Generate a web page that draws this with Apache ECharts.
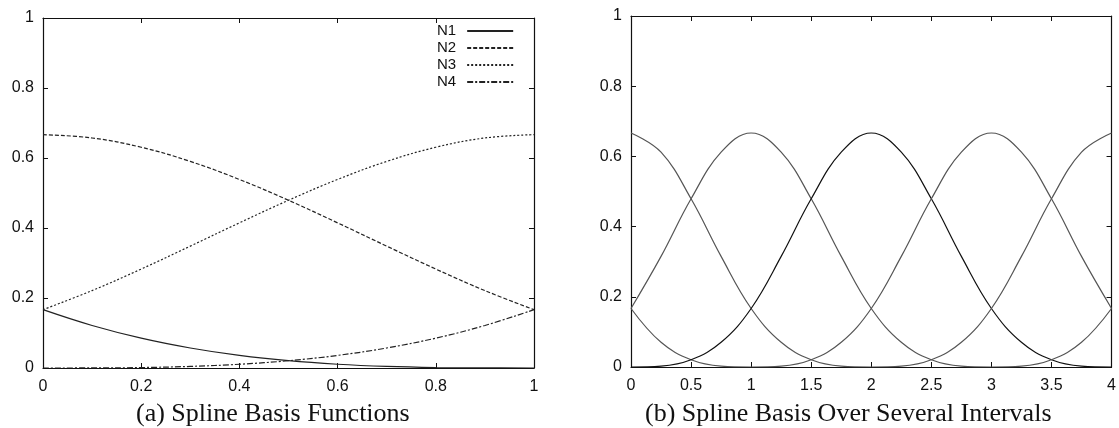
<!DOCTYPE html>
<html><head><meta charset="utf-8">
<script src="https://cdn.jsdelivr.net/npm/echarts@6/dist/echarts.min.js"></script>
<style>html,body{margin:0;padding:0;background:#fff}#c{width:1119px;height:428px}</style>
</head><body><div id="c"></div>
<script>
// Panel (a): spline basis functions on one interval
const tA = [0, 0.1, 0.2, 0.3, 0.4, 0.5, 0.6, 0.7, 0.8, 0.9, 1];
const N1 = [0.1667, 0.1215, 0.0853, 0.0572, 0.0360, 0.0208, 0.0107, 0.0045, 0.0013, 0.0002, 0];
const N2 = [0.6667, 0.6572, 0.6307, 0.5902, 0.5387, 0.4792, 0.4147, 0.3482, 0.2827, 0.2212, 0.1667];
const N3 = [0.1667, 0.2212, 0.2827, 0.3482, 0.4147, 0.4792, 0.5387, 0.5902, 0.6307, 0.6572, 0.6667];
const N4 = [0, 0.0002, 0.0013, 0.0045, 0.0107, 0.0208, 0.0360, 0.0572, 0.0853, 0.1215, 0.1667];
const namesA = ['N1', 'N2', 'N3', 'N4'];

// Panel (b): basis over several intervals
const xB = [0, 0.25, 0.5, 0.75, 1, 1.25, 1.5, 1.75, 2, 2.25, 2.5, 2.75, 3, 3.25, 3.5, 3.75, 4];
const Bm1 = [0.1667, 0.0703, 0.0208, 0.0026, 0, null, null, null, null, null, null, null, null, null, null, null, null];
const B0 = [0.6667, 0.6120, 0.4792, 0.3151, 0.1667, 0.0703, 0.0208, 0.0026, 0, null, null, null, null, null, null, null, null];
const B1 = [0.1667, 0.3151, 0.4792, 0.6120, 0.6667, 0.6120, 0.4792, 0.3151, 0.1667, 0.0703, 0.0208, 0.0026, 0, null, null, null, null];
const B2 = [0, 0.0026, 0.0208, 0.0703, 0.1667, 0.3151, 0.4792, 0.6120, 0.6667, 0.6120, 0.4792, 0.3151, 0.1667, 0.0703, 0.0208, 0.0026, 0];
const B3 = [null, null, null, null, 0, 0.0026, 0.0208, 0.0703, 0.1667, 0.3151, 0.4792, 0.6120, 0.6667, 0.6120, 0.4792, 0.3151, 0.1667];
const B4 = [null, null, null, null, null, null, null, null, 0, 0.0026, 0.0208, 0.0703, 0.1667, 0.3151, 0.4792, 0.6120, 0.6667];
const B5 = [null, null, null, null, null, null, null, null, null, null, null, null, 0, 0.0026, 0.0208, 0.0703, 0.1667];
const seriesB = [Bm1, B0, B1, B2, B3, B4, B5];
const colorsB = ['#555', '#555', '#555', '#111', '#555', '#555', '#555'];

const captionA = '(a) Spline Basis Functions';
const captionB = '(b) Spline Basis Over Several Intervals';

const pair = (xs, ys) => xs.map((x, i) => [x, ys[i]]);
const lab = { fontFamily: 'Liberation Sans', fontSize: 16, color: '#111' };
const axLine = { show: true, onZero: false, lineStyle: { color: '#111', width: 1.2 } };
const tick = { show: true, inside: true, length: 5, lineStyle: { color: '#111' } };

function axesFor(gi, xMin, xMax, xInt) {
  return {
    x: [
      { type: 'value', gridIndex: gi, position: 'bottom', min: xMin, max: xMax, interval: xInt,
        axisLine: axLine, axisTick: tick, splitLine: { show: false },
        axisLabel: Object.assign({ margin: 11 }, lab) },
      { type: 'value', gridIndex: gi, position: 'top', min: xMin, max: xMax, interval: xInt,
        axisLine: axLine, axisTick: tick, splitLine: { show: false }, axisLabel: { show: false } }
    ],
    y: [
      { type: 'value', gridIndex: gi, position: 'left', min: 0, max: 1, interval: 0.2,
        axisLine: axLine, axisTick: tick, splitLine: { show: false },
        axisLabel: Object.assign({ margin: 9 }, lab) },
      { type: 'value', gridIndex: gi, position: 'right', min: 0, max: 1, interval: 0.2,
        axisLine: axLine, axisTick: tick, splitLine: { show: false }, axisLabel: { show: false } }
    ]
  };
}
const aA = axesFor(0, 0, 1, 0.2);
const aB = axesFor(1, 0, 4, 0.5);

const stylesA = [
  { type: 'solid' },
  { type: [4, 2] },
  { type: [2, 2] },
  { type: [6, 2, 2, 2] }
];
const dataA = [N1, N2, N3, N4];

const series = [];
dataA.forEach((ys, i) => {
  series.push({
    name: namesA[i], type: 'line', xAxisIndex: 0, yAxisIndex: 0,
    data: pair(tA, ys), smooth: 0.4, symbol: 'none', showSymbol: false,
    lineStyle: Object.assign({ color: '#222', width: 1.2 }, stylesA[i]),
    itemStyle: { color: '#222' }
  });
});
seriesB.forEach((ys, i) => {
  series.push({
    type: 'line', xAxisIndex: 2, yAxisIndex: 2,
    data: pair(xB, ys), smooth: 0.4, symbol: 'none', connectNulls: false,
    lineStyle: { color: colorsB[i], width: 1.2 }
  });
});

const option = {
  backgroundColor: '#fff',
  animation: false,
  grid: [
    { left: 43, right: 585, top: 18, bottom: 60 },
    { left: 631, right: 7, top: 16, bottom: 61 }
  ],
  xAxis: aA.x.concat(aB.x),
  yAxis: aA.y.concat(aB.y),
  legend: {
    data: namesA, orient: 'vertical', align: 'right', left: 437, top: 23,
    itemWidth: 46, itemHeight: 8, itemGap: 1, padding: 0,
    itemStyle: { opacity: 0 },
    textStyle: { fontFamily: 'Liberation Sans', fontSize: 15, color: '#111', lineHeight: 16, padding: [0, 6, 0, 0] }
  },
  graphic: [
    { type: 'text', left: 136, top: 401,
      style: { text: captionA, font: '26px "Liberation Serif"', fill: '#111' } },
    { type: 'text', left: 645, top: 401,
      style: { text: captionB, font: '26px "Liberation Serif"', fill: '#111' } }
  ],
  series: series
};
echarts.init(document.getElementById('c')).setOption(option);
</script></body></html>
